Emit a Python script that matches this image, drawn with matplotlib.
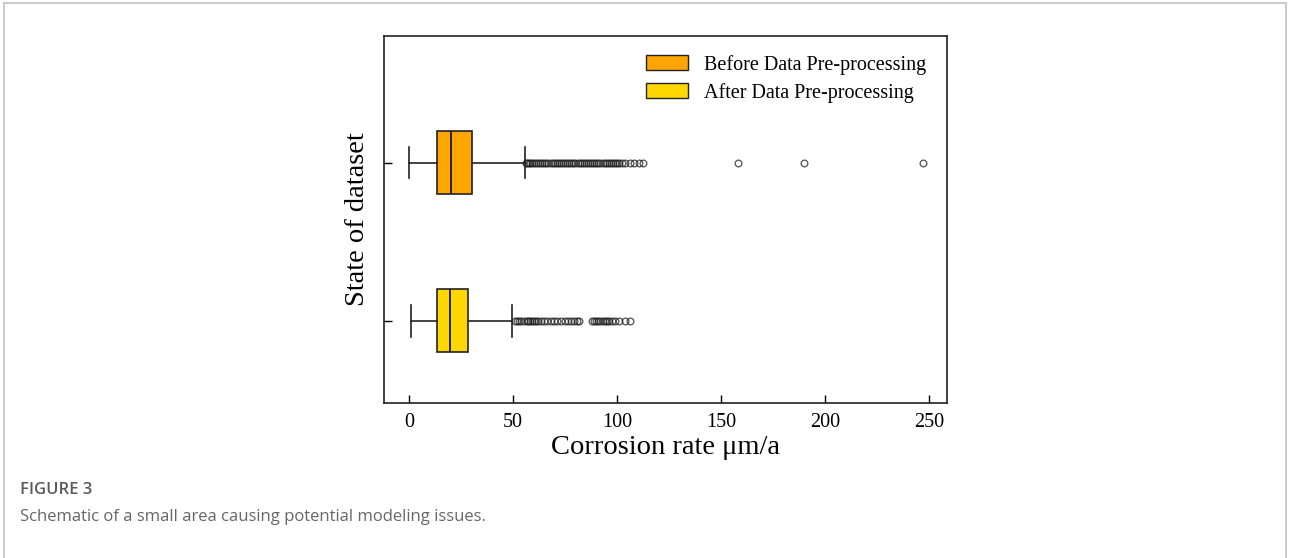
import matplotlib
matplotlib.use("Agg")
import matplotlib.pyplot as plt
from matplotlib.patches import Patch
from matplotlib.lines import Line2D

# ---- data ----
labels = ["After Data Pre-processing", "Before Data Pre-processing"]
colors = ["#FFD700", "#FFA500"]
whislo = [1.0, 0.2]
q1 = [13.5, 13.5]
med = [19.7, 20.2]
q3 = [28.4, 30.3]
whishi = [49.5, 55.8]
fliers_after = [51, 52, 53, 54, 55.5, 56.5, 57, 58, 59, 60, 61, 62, 63.5, 65, 66.5,
                68, 69.5, 71, 73, 75, 76.5, 78, 79.5, 80.5, 81.5,
                88, 89, 90, 91, 92, 93, 94, 95, 96, 97.5, 99, 101, 104, 106]
fliers_before = [56, 56.8, 57.5, 58.3, 59, 60, 61, 62, 63, 64, 65, 66, 67, 68, 69, 70,
                 71, 72, 73, 74, 75, 76, 77, 78, 79, 80, 81, 82, 83, 84, 85, 86, 87,
                 88, 89, 90, 91, 92, 93, 94, 95, 96, 97, 98, 99, 100, 101, 102.5,
                 104, 106, 108, 110.5, 112.5, 158, 190, 247]
fliers = [fliers_after, fliers_before]
xticks = [0, 50, 100, 150, 200, 250]
xlabel = "Corrosion rate \u03bcm/a"
ylabel = "State of dataset"
caption_title = "FIGURE 3"
caption_text = "Schematic of a small area causing potential modeling issues."

fig = plt.figure(figsize=(12.9, 5.58), dpi=100)
ax = fig.add_axes([384 / 1290, 1 - 403 / 558, (947 - 384) / 1290, (403 - 36) / 558])

stats = []
for i in range(2):
    stats.append(dict(label=labels[i], whislo=whislo[i], q1=q1[i], med=med[i],
                      q3=q3[i], whishi=whishi[i], fliers=fliers[i]))

bp = ax.bxp(stats, positions=[1, 2], widths=0.4, vert=False, patch_artist=True,
            showfliers=True,
            boxprops=dict(linewidth=1.2, edgecolor="#222222"),
            medianprops=dict(color="#222222", linewidth=1.4),
            whiskerprops=dict(color="#222222", linewidth=1.2),
            capprops=dict(color="#222222", linewidth=1.2),
            flierprops=dict(marker="o", markersize=4.8, markerfacecolor="none",
                            markeredgecolor="#1a1a1a", markeredgewidth=1.0, alpha=0.7))
for patch, c in zip(bp["boxes"], colors):
    patch.set_facecolor(c)

ax.set_xlim(-12, 258.5)
ax.set_ylim(0.48, 2.80)
ax.set_xticks(xticks)
ax.set_xticklabels([str(t) for t in xticks], fontsize=14.5, family="Liberation Serif")
ax.set_yticks([1, 2])
ax.set_yticklabels(["", ""])
ax.tick_params(direction="in", length=6, width=1.0, pad=7)
for sp in ax.spines.values():
    sp.set_linewidth(1.2)
    sp.set_color("#222222")

ax.set_xlabel(xlabel, fontsize=20.5, family="Liberation Serif", labelpad=2)
ax.set_ylabel(ylabel, fontsize=20.5, family="Liberation Serif", labelpad=3)

handles = [Patch(facecolor=colors[1], edgecolor="#222222", linewidth=1.0),
           Patch(facecolor=colors[0], edgecolor="#222222", linewidth=1.0)]
ax.legend(handles, [labels[1], labels[0]], loc="upper right",
          bbox_to_anchor=(0.995, 0.998), frameon=False,
          prop=dict(family="Liberation Serif", size=14.5),
          handlelength=2.1, handleheight=0.8, handletextpad=0.8, labelspacing=0.4)

# outer frame (open at the bottom)
W, H = 1290, 558
fc = "#cccccc"
fig.add_artist(Line2D([4 / W, 4 / W], [0, 1 - 2.5 / H], color=fc, lw=1.5))
fig.add_artist(Line2D([4 / W, 1286 / W], [1 - 2.5 / H, 1 - 2.5 / H], color=fc, lw=1.5))
fig.add_artist(Line2D([1286 / W, 1286 / W], [0, 1 - 2.5 / H], color=fc, lw=1.5))

fig.text(20 / W, 1 - 490 / H, caption_title, fontsize=12, family="Open Sans",
         fontweight="semibold", color="#5a5a5a", va="center", ha="left")
fig.text(20 / W, 1 - 517 / H, caption_text, fontsize=12, family="Open Sans",
         color="#666666", va="center", ha="left")

fig.savefig("out.png", dpi=100)
